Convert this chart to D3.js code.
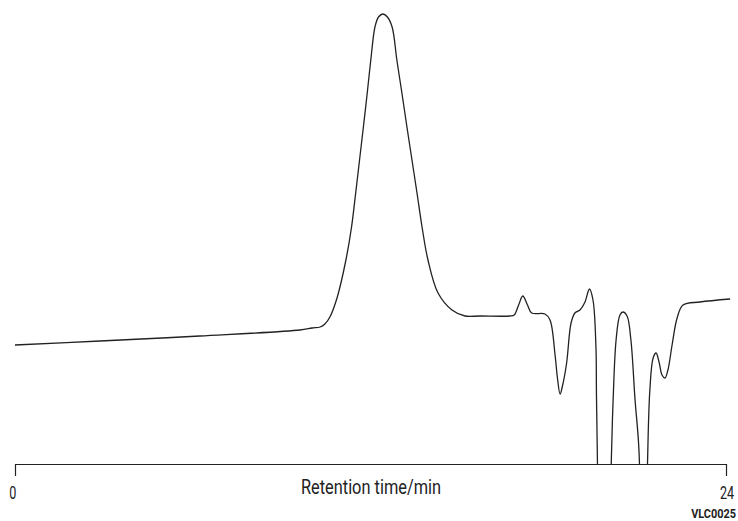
<!DOCTYPE html>
<html>
<head>
<meta charset="utf-8">
<script src="https://cdn.jsdelivr.net/npm/d3@7"></script>
<style>
  html, body { margin: 0; padding: 0; background: #fff; }
  svg { display: block; }
  text { font-family: "Roboto", "Liberation Sans", sans-serif; fill: #222; }
</style>
</head>
<body>
<svg id="chart" width="738" height="521"></svg>
<script>
// Retention time (min) and detector signal (arbitrary units)
const retentionTime = [
  0, 2.87, 6.24, 9.62, 10.03, 10.30, 10.46, 10.63, 10.87, 11.17, 11.36, 11.50, 11.63, 11.76,
  11.89, 12.01, 12.15, 12.27, 12.42, 12.57, 12.73, 12.89, 13.06, 13.23, 13.40, 13.57, 13.74, 13.94, 14.28,
  14.75, 15.19, 15.70, 16.71, 16.85, 17.00, 17.14, 17.30, 17.44, 17.89, 18.06, 18.23, 18.31,
  18.40, 18.48, 18.62, 18.77, 18.90, 19.07, 19.24, 19.39, 19.51, 19.61, 19.63, 19.88, 20.12,
  20.19, 20.29, 20.42, 20.52, 20.66, 20.79, 20.93, 21.06, 21.23, 21.35, 21.43, 21.54, 21.64,
  21.74, 21.84, 21.94, 22.04, 22.18, 22.35, 22.55, 23.12, 24.14
];
const signal = [
  119, 123, 128, 134, 136, 137, 140, 147, 166, 204, 237, 271, 304, 337,
  371, 404, 437, 447, 450, 447, 437, 404, 371, 337, 304, 271, 237, 204, 171,
  154, 148, 148, 148, 149, 159, 168, 159, 151, 150, 144, 109, 86,
  70, 78, 101, 141, 151, 154, 162, 175, 164, 117, 64, -300, -6,
  64, 124, 149, 152, 148, 124, 64, 15, -200, 0, 74, 106, 111,
  102, 89, 86, 94, 119, 146, 159, 162, 165
];
const xTickValues = [0, 24];
const xTickLabels = ["0", "24"];
const xAxisTitle = "Retention time/min";
const figureCode = "VLC0025";

const data = retentionTime.map((t, i) => ({ t, v: signal[i] }));

const svg = d3.select("#chart");
const W = 738, H = 521;
const margin = { left: 15, right: 12, top: 14, bottom: 57 };
const axisY = H - margin.bottom; // 464

const x = d3.scaleLinear().domain([0, 24]).range([margin.left, W - margin.right]);
const y = d3.scaleLinear().domain([0, 450]).range([axisY, margin.top]);

svg.append("defs").append("clipPath").attr("id", "plotclip")
  .append("rect").attr("x", 0).attr("y", 0).attr("width", W).attr("height", axisY);

const line = d3.line()
  .x(d => x(d.t))
  .y(d => y(d.v))
  .curve(d3.curveCatmullRom.alpha(0.5));

svg.append("path")
  .datum(data)
  .attr("clip-path", "url(#plotclip)")
  .attr("d", line)
  .attr("fill", "none")
  .attr("stroke", "#222")
  .attr("stroke-width", 1.3)
  .attr("stroke-linejoin", "round");

// X axis
const axis = d3.axisBottom(x)
  .tickValues(xTickValues)
  .tickFormat("")
  .tickSize(12)
  .tickSizeOuter(0);

const gx = svg.append("g").attr("transform", `translate(0,${axisY})`).call(axis);
gx.select(".domain").attr("stroke", "#222").attr("stroke-width", 1.2);
gx.selectAll(".tick line").attr("stroke", "#222").attr("stroke-width", 1.2);

// condensed tick labels
svg.selectAll("text.ticklabel")
  .data(xTickValues)
  .join("text")
  .attr("class", "ticklabel")
  .attr("transform", (d, i) => `translate(${x(d) + (i === 0 ? -2.3 : 1)},499) scale(0.72,1)`)
  .attr("text-anchor", "middle")
  .attr("font-size", 17.5)
  .text((d, i) => xTickLabels[i]);

svg.append("text")
  .attr("transform", "translate(371,494) scale(0.84,1)")
  .attr("text-anchor", "middle")
  .attr("font-size", 19.5)
  .text(xAxisTitle);

svg.append("text")
  .attr("transform", "translate(736,518) scale(0.86,1)")
  .attr("text-anchor", "end")
  .attr("font-size", 12.7)
  .attr("font-weight", "bold")
  .text(figureCode);
</script>
</body>
</html>
